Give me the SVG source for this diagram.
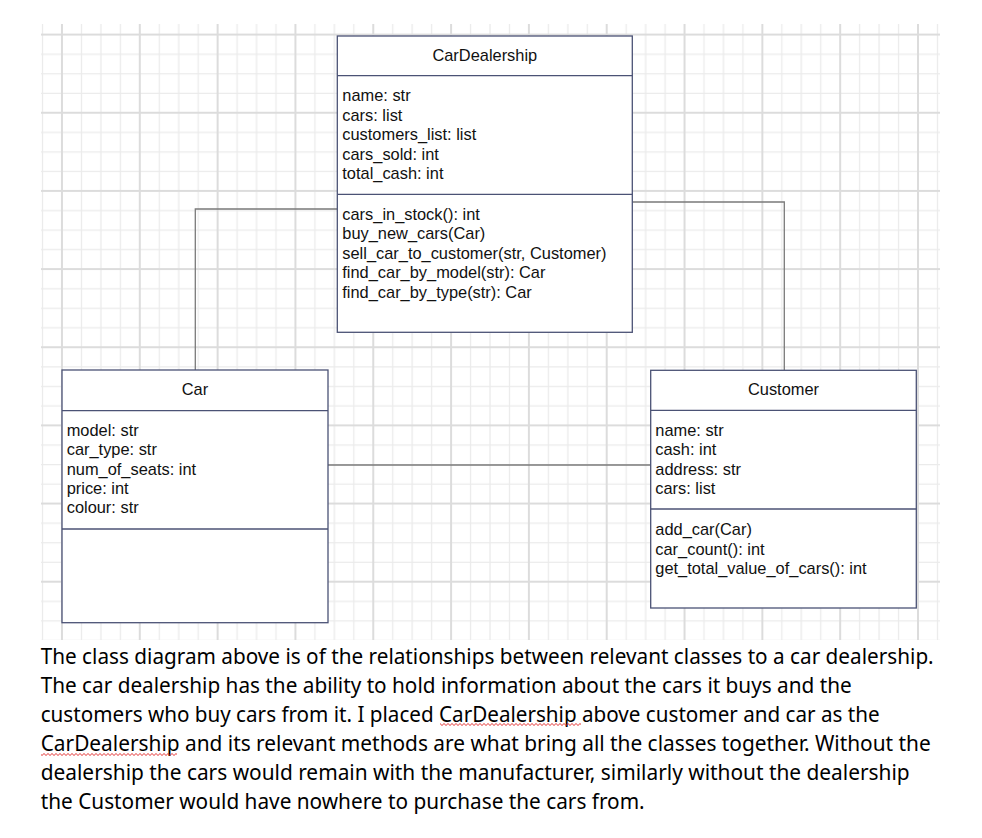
<svg xmlns="http://www.w3.org/2000/svg" width="982" height="838" viewBox="0 0 982 838">
<style>
.box{fill:#ffffff;stroke:#4b5275;stroke-width:1.3}
.sep{stroke:#4b5275;stroke-width:1.3;fill:none}
.conn{stroke:#7a7a7a;stroke-width:1.3;fill:none}
.t{font-family:"Liberation Sans",Arial,sans-serif;font-size:16.4px;fill:#111111}
.tc{font-family:"Liberation Sans",Arial,sans-serif;font-size:16.4px;fill:#111111;text-anchor:middle}
.p{font-family:"Noto Sans","Open Sans",sans-serif;font-size:21.5px;fill:#000000}
</style>
<defs>
<pattern id="grid" patternUnits="userSpaceOnUse" x="52" y="24.7" width="77.82" height="78.16">
<g stroke="#ebebeb" stroke-width="1.3">
<line x1="29.455" y1="0" x2="29.455" y2="78.16"/>
<line x1="48.91" y1="0" x2="48.91" y2="78.16"/>
<line x1="68.365" y1="0" x2="68.365" y2="78.16"/>
<line x1="0" y1="29.54" x2="77.82" y2="29.54"/>
<line x1="0" y1="49.08" x2="77.82" y2="49.08"/>
<line x1="0" y1="68.62" x2="77.82" y2="68.62"/>
</g>
<g stroke="#dcdcdc" stroke-width="2">
<line x1="10" y1="0" x2="10" y2="78.16"/>
<line x1="0" y1="10" x2="77.82" y2="10"/>
</g>
</pattern>
<pattern id="squig" patternUnits="userSpaceOnUse" x="0" y="722.5" width="4" height="4">
<polyline points="0,1 2,3 4,1" fill="none" stroke="#e02020" stroke-width="0.9"/>
</pattern>
<pattern id="squig2" patternUnits="userSpaceOnUse" x="0" y="752.5" width="4" height="4">
<polyline points="0,1 2,3 4,1" fill="none" stroke="#e02020" stroke-width="0.9"/>
</pattern>
</defs>
<rect x="0" y="0" width="982" height="838" fill="#ffffff"/>
<rect x="41" y="24" width="899" height="616" fill="url(#grid)"/>

<g id="connectors">
<polyline class="conn" points="195.3,370 195.3,209 337.3,209"/>
<polyline class="conn" points="632.3,202 784.3,202 784.3,370.3"/>
<line class="conn" x1="328" y1="465" x2="650.7" y2="465"/>
</g>

<g id="CarDealership">
<rect class="box" x="337.3" y="36" width="295" height="296.3"/>
<line class="sep" x1="337.3" y1="75.7" x2="632.3" y2="75.7"/>
<line class="sep" x1="337.3" y1="194.3" x2="632.3" y2="194.3"/>
<text class="tc" x="484.8" y="60.5">CarDealership</text>
<text class="t" x="342.3" y="101">name: str</text>
<text class="t" x="342.3" y="120.6">cars: list</text>
<text class="t" x="342.3" y="140.2">customers_list: list</text>
<text class="t" x="342.3" y="159.8">cars_sold: int</text>
<text class="t" x="342.3" y="179.4">total_cash: int</text>
<text class="t" x="342.3" y="219.5">cars_in_stock(): int</text>
<text class="t" x="342.3" y="239">buy_new_cars(Car)</text>
<text class="t" x="342.3" y="258.6">sell_car_to_customer(str, Customer)</text>
<text class="t" x="342.3" y="278.2">find_car_by_model(str): Car</text>
<text class="t" x="342.3" y="297.8">find_car_by_type(str): Car</text>
</g>

<g id="Car">
<rect class="box" x="62" y="370" width="266" height="252.7"/>
<line class="sep" x1="62" y1="410.7" x2="328" y2="410.7"/>
<line class="sep" x1="62" y1="529" x2="328" y2="529"/>
<text class="tc" x="195" y="395">Car</text>
<text class="t" x="66.7" y="436">model: str</text>
<text class="t" x="66.7" y="455.3">car_type: str</text>
<text class="t" x="66.7" y="474.7">num_of_seats: int</text>
<text class="t" x="66.7" y="494">price: int</text>
<text class="t" x="66.7" y="513.3">colour: str</text>
</g>

<g id="Customer">
<rect class="box" x="650.7" y="370.3" width="265.6" height="237.7"/>
<line class="sep" x1="650.7" y1="410.3" x2="916.3" y2="410.3"/>
<line class="sep" x1="650.7" y1="509" x2="916.3" y2="509"/>
<text class="tc" x="783.5" y="395">Customer</text>
<text class="t" x="655.3" y="435.5">name: str</text>
<text class="t" x="655.3" y="455">cash: int</text>
<text class="t" x="655.3" y="474.5">address: str</text>
<text class="t" x="655.3" y="494">cars: list</text>
<text class="t" x="655.3" y="535">add_car(Car)</text>
<text class="t" x="655.3" y="554.5">car_count(): int</text>
<text class="t" x="655.3" y="574">get_total_value_of_cars(): int</text>
</g>

<g id="paragraph">
<text class="p" x="40.7" y="664" textLength="893" lengthAdjust="spacingAndGlyphs">The class diagram above is of the relationships between relevant classes to a car dealership.</text>
<text class="p" x="40.7" y="692.9" textLength="811" lengthAdjust="spacingAndGlyphs">The car dealership has the ability to hold information about the cars it buys and the</text>
<text class="p" x="40.7" y="721.8" textLength="839" lengthAdjust="spacingAndGlyphs">customers who buy cars from it. I placed CarDealership above customer and car as the</text>
<text class="p" x="40.7" y="750.7" textLength="890" lengthAdjust="spacingAndGlyphs">CarDealership and its relevant methods are what bring all the classes together. Without the</text>
<text class="p" x="40.7" y="779.6" textLength="869" lengthAdjust="spacingAndGlyphs">dealership the cars would remain with the manufacturer, similarly without the dealership</text>
<text class="p" x="40.7" y="808.5" textLength="604" lengthAdjust="spacingAndGlyphs">the Customer would have nowhere to purchase the cars from.</text>
<rect x="440" y="722.5" width="141" height="4" fill="url(#squig)"/>
<rect x="41" y="752.5" width="136" height="4" fill="url(#squig2)"/>
</g>
</svg>
